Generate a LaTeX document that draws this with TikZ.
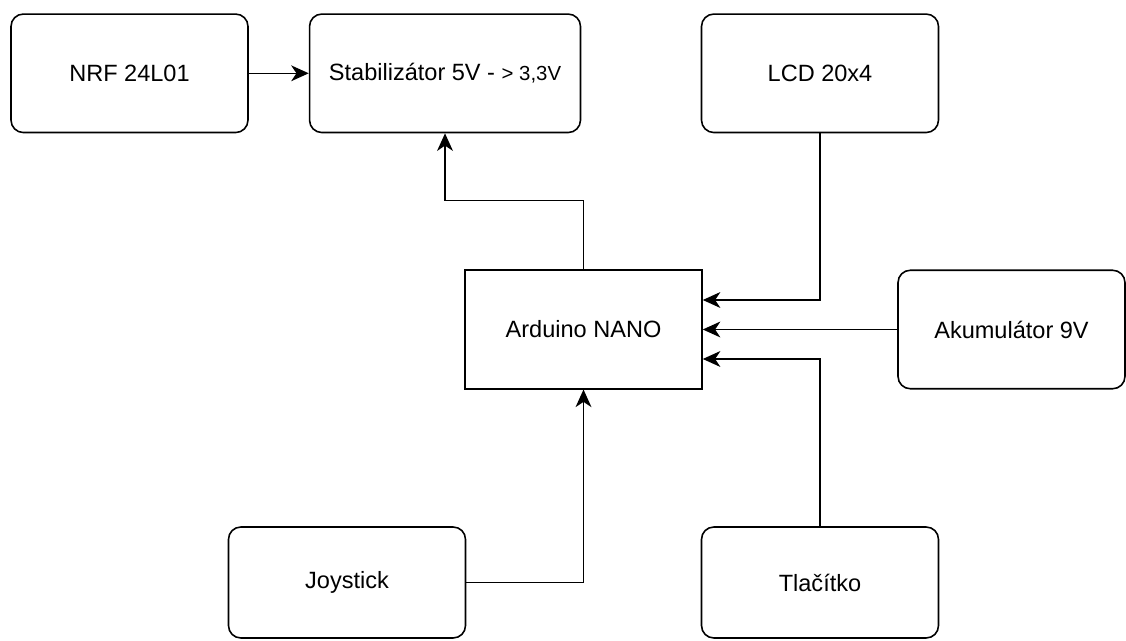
\documentclass[tikz,border=0pt]{standalone}
\usepackage{fontspec}
\setmainfont{Liberation Sans}
\usetikzlibrary{arrows.meta,positioning}

\begin{document}
\begin{tikzpicture}[
    x=0.02cm, y=0.02cm,
    node distance=1.2cm,
    block/.style={draw, line width=0.9pt, minimum width=4.74cm, minimum height=2.37cm, align=center, inner sep=0pt, font=\fontsize{13.4}{16}\selectfont},
    module/.style={block, rounded corners=7pt},
    arrow/.style={-{Stealth[length=10pt,width=9pt,inset=3pt]}, line width=0.9pt}
]

\useasboundingbox (0,0) rectangle (1126,-641);

\node[module] (nrf) at (129.5,-73.3) {NRF 24L01};
\node[module, minimum width=5.42cm, right=of nrf] (stab) {Stabilizátor 5V - {\fontsize{11.6}{13}\selectfont > 3,3V}};
\node[module] (lcd) at (820,-73.3) {LCD 20x4};
\node[block] (ardu) at (583.5,-329.5) {Arduino NANO};
\node[module, minimum width=4.54cm] (akku) at (1011.5,-329.5) {Akumulátor 9V};
\node[module, minimum height=2.22cm] (joy) at (347,-582.5) {Joystick};
\node[module, minimum height=2.22cm] (tlac) at (820,-582.5) {Tlačítko};

\draw[arrow] (nrf) -- (stab);
\draw[arrow] (ardu.north) -- ++(0,69) -| (stab.south);
\draw[arrow] (lcd.south) |- ([yshift=0.59cm]ardu.east);
\draw[arrow] (akku.west) -- (ardu.east);
\draw[arrow] (tlac.north) |- ([yshift=-0.59cm]ardu.east);
\draw[arrow] (joy.east) -| (ardu.south);

\end{tikzpicture}
\end{document}
